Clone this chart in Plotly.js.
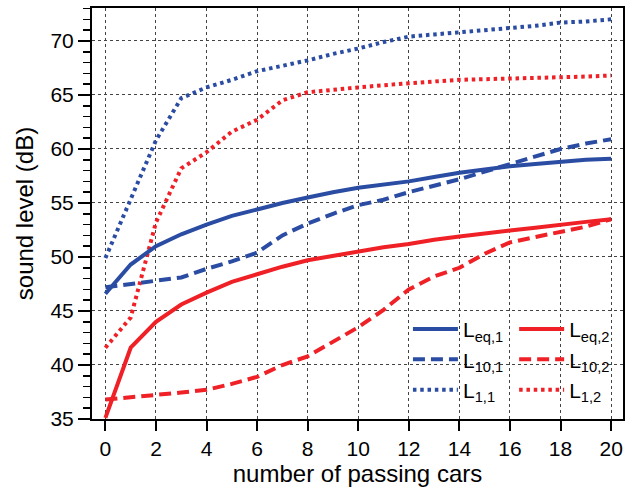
<!DOCTYPE html>
<html>
<head>
<meta charset="utf-8">
<script src="https://cdn.plot.ly/plotly-3.0.1.min.js"></script>
<style>html,body{margin:0;padding:0;background:#fff;}#chart{width:627px;height:492px;}</style>
</head>
<body>
<div id="chart"></div>
<script>
const cars = [0,1,2,3,4,5,6,7,8,9,10,11,12,13,14,15,16,17,18,19,20];
const Leq1 = [46.6,49.3,51.0,52.1,53.0,53.8,54.4,55.0,55.5,56.0,56.4,56.7,57.0,57.4,57.8,58.1,58.4,58.6,58.8,59.0,59.1];
const L10_1 = [47.2,47.5,47.8,48.1,48.9,49.6,50.4,52.0,53.1,54.0,54.8,55.3,56.0,56.6,57.2,57.9,58.6,59.3,60.0,60.5,60.9];
const L1_1 = [49.9,55.3,60.8,64.7,65.7,66.4,67.2,67.7,68.2,68.8,69.3,69.9,70.4,70.6,70.8,71.0,71.2,71.4,71.7,71.8,72.0];
const Leq2 = [35.1,41.6,44.0,45.6,46.7,47.7,48.4,49.1,49.7,50.1,50.5,50.9,51.2,51.6,51.9,52.2,52.45,52.7,53.0,53.25,53.5];
const L10_2 = [36.8,37.0,37.2,37.45,37.7,38.25,38.9,40.0,40.8,42.1,43.5,45.1,47.0,48.2,49.0,50.3,51.35,51.85,52.3,52.8,53.5];
const L1_2 = [41.6,44.4,53.2,58.2,59.7,61.6,62.7,64.5,65.25,65.5,65.7,65.9,66.1,66.25,66.4,66.45,66.5,66.55,66.6,66.7,66.8];
const names = ['L<sub>eq,1</sub>','L<sub>10,1</sub>','L<sub>1,1</sub>','L<sub>eq,2</sub>','L<sub>10,2</sub>','L<sub>1,2</sub>'];

const blue = '#2a4ca2';
const red = '#ef2127';
const dashS = '12px,6px';
const dotS = '3.5px,3.8px';

function tr(y, name, color, dash, leg){
  return {x: cars, y: y, name: name, type: 'scatter', mode: 'lines',
    line: {color: color, width: 4, dash: dash}, legend: leg};
}
const data = [
  tr(L1_1, names[2], blue, dotS, 'legend'),
  tr(L1_2, names[5], red, dotS, 'legend2'),
  tr(L10_2, names[4], red, dashS, 'legend2'),
  tr(Leq2, names[3], red, 'solid', 'legend2'),
  tr(L10_1, names[1], blue, dashS, 'legend'),
  tr(Leq1, names[0], blue, 'solid', 'legend')
];

const font = {family: '"Liberation Sans", Arial, sans-serif', color: '#000'};
const legFont = {family: font.family, size: 21, color: '#000'};
const layout = {
  width: 627, height: 492,
  margin: {l: 91.5, r: 3.5, t: 8, b: 73, pad: 0},
  paper_bgcolor: '#fff', plot_bgcolor: '#fff',
  font: font,
  showlegend: true,
  xaxis: {
    range: [-0.53, 20.47], tickvals: [0,2,4,6,8,10,12,14,16,18,20],
    ticks: 'outside', ticklen: 10, tickwidth: 2, tickcolor: '#000',
    tickfont: {size: 21, family: font.family},
    showline: true, linewidth: 2, linecolor: '#000', mirror: true,
    showgrid: true, gridcolor: '#444', gridwidth: 1, griddash: 'dot',
    zeroline: false,
    title: {text: 'number of passing cars', font: {size: 24, family: font.family}, standoff: 6}
  },
  yaxis: {
    range: [35, 73.05], tickvals: [35,40,45,50,55,60,65,70],
    ticks: 'outside', ticklen: 12, tickwidth: 2, tickcolor: '#000',
    tickfont: {size: 21, family: font.family},
    minor: {dtick: 1, ticks: 'outside', ticklen: 7, tickwidth: 1.5, tickcolor: '#000', showgrid: false},
    showline: true, linewidth: 2, linecolor: '#000', mirror: true,
    showgrid: true, gridcolor: '#444', gridwidth: 1, griddash: 'dot',
    zeroline: false,
    title: {text: 'sound level (dB)', font: {size: 24, family: font.family}, standoff: 10}
  },
  legend: {x: 0.595, y: 0.145, xanchor: 'left', yanchor: 'middle', bgcolor: 'rgba(0,0,0,0)',
    font: legFont, traceorder: 'reversed', itemwidth: 45, tracegroupgap: 0},
  legend2: {x: 0.795, y: 0.145, xanchor: 'left', yanchor: 'middle', bgcolor: 'rgba(0,0,0,0)',
    font: legFont, traceorder: 'reversed', itemwidth: 45, tracegroupgap: 0}
};
Plotly.newPlot('chart', data, layout, {displayModeBar: false, staticPlot: true});
</script>
</body>
</html>
